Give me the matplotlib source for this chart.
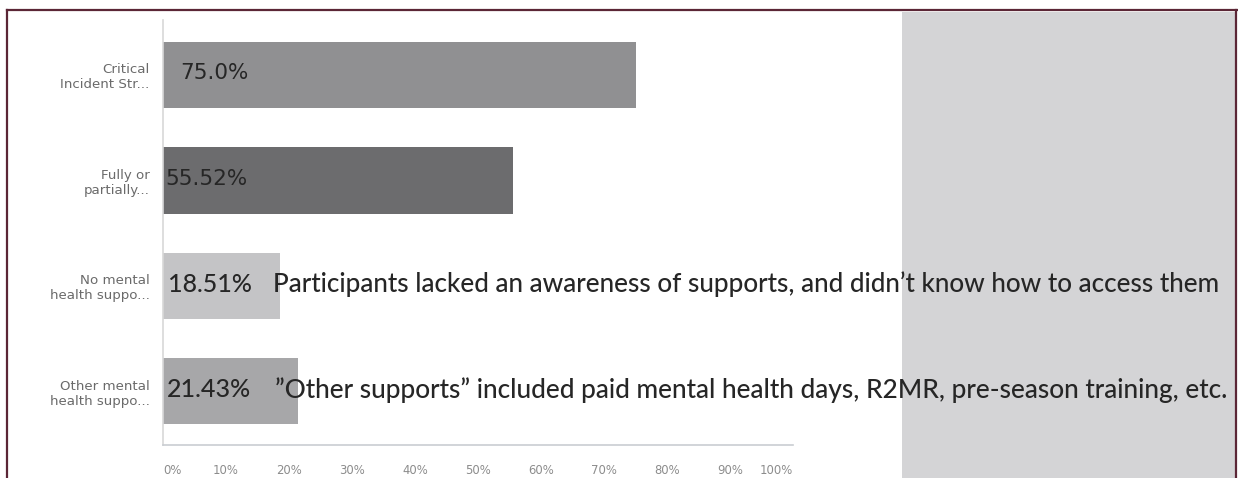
import matplotlib
matplotlib.use("Agg")
import matplotlib.pyplot as plt
from matplotlib.patches import Rectangle
from matplotlib.lines import Line2D

# ---- data ----
categories = ["Critical\nIncident Str...", "Fully or\npartially...",
              "No mental\nhealth suppo...", "Other mental\nhealth suppo..."]
values = [75.0, 55.52, 18.51, 21.43]
value_labels = ["75.0%", "55.52%", "18.51%", "21.43%"]
bar_colors = ["#909092", "#6c6c6e", "#c4c4c6", "#a7a7a9"]
x_ticks = [0, 10, 20, 30, 40, 50, 60, 70, 80, 90, 100]
x_tick_labels = ["0%", "10%", "20%", "30%", "40%", "50%", "60%", "70%", "80%", "90%", "100%"]
notes = {2: "Participants lacked an awareness of supports, and didn\u2019t know how to access them",
         3: "\u201dOther supports\u201d included paid mental health days, R2MR, pre-season training, etc."}

W, H = 1238, 478
fig = plt.figure(figsize=(W / 100, H / 100), dpi=100)
fig.patch.set_facecolor("white")

def fx(px):
    return px / W

def fy(py):
    return 1 - py / H

# gray right panel (behind everything)
fig.patches.append(Rectangle((fx(902), 0), fx(1236) - fx(902), fy(12), transform=fig.transFigure,
                             facecolor="#d4d4d6", edgecolor="none", zorder=-5))
# frame lines
frame_c = "#5b2636"
fig.lines.append(Line2D([fx(7), 1.0], [fy(10), fy(10)], transform=fig.transFigure, color=frame_c, lw=1.6, zorder=5))
fig.lines.append(Line2D([fx(7), fx(7)], [0, fy(10)], transform=fig.transFigure, color=frame_c, lw=1.6, zorder=5))
fig.lines.append(Line2D([fx(1236), fx(1236)], [0, fy(10)], transform=fig.transFigure, color=frame_c, lw=1.6, zorder=5))

ax = fig.add_axes([fx(163), fy(445), fx(793) - fx(163), fy(20) - fy(445)])
ax.set_zorder(1)
ax.set_facecolor("none")
ypos = list(range(len(values)))
ax.barh(ypos, values, height=0.63, color=bar_colors, zorder=2)
ax.set_xlim(0, 100)
ax.set_ylim(3.51, -0.52)

for s in ["top", "right"]:
    ax.spines[s].set_visible(False)
ax.spines["left"].set_color("#d8d8d8")
ax.spines["bottom"].set_color("#c9cdd2")
ax.spines["left"].set_linewidth(1.2)
ax.spines["bottom"].set_linewidth(1.2)

ax.set_yticks(ypos)
ax.set_yticklabels(categories, fontsize=9.6, color="#6a6a6a", family="DejaVu Sans", linespacing=1.2)
ax.tick_params(axis="y", length=0, pad=9.5)
ax.set_xticks(x_ticks)
ax.set_xticklabels(x_tick_labels, fontsize=8.4, color="#8c8c8c", family="DejaVu Sans")
ax.tick_params(axis="x", length=0, pad=14)
xl = ax.get_xticklabels()
xl[0].set_ha("left")
xl[-1].set_ha("right")

# value labels
label_offsets_px = [17, 2, 5, 4]
label_fonts = ["DejaVu Sans", "DejaVu Sans", "Lato", "Lato"]
label_sizes = [15.5, 15.5, 18, 18]
label_weights = ["normal", "normal", "medium", "medium"]
for i, (lab, off) in enumerate(zip(value_labels, label_offsets_px)):
    ax.annotate(lab, xy=(0, i), xytext=(off * 0.72, 1), textcoords="offset points",
                ha="left", va="center", fontsize=label_sizes[i], family=label_fonts[i],
                fontweight=label_weights[i], color="#262626", zorder=3)

# annotation notes
note_x_px = {2: 273, 3: 275}
note_w_px = {2: 1220 - 273, 3: 1226 - 275}
texts = {}
for i, t in notes.items():
    texts[i] = ax.annotate(t, xy=(0, i), xytext=((note_x_px[i] - 163) * 0.72, 1),
                           textcoords="offset points", ha="left", va="center",
                           fontsize=19, family="Lato", fontweight="medium",
                           color="#262626", zorder=3, annotation_clip=False)
fig.canvas.draw()
r = fig.canvas.get_renderer()
for i, tx in texts.items():
    w = tx.get_window_extent(r).width
    tx.set_fontsize(19 * note_w_px[i] / w)

fig.savefig("out.png", dpi=100)
